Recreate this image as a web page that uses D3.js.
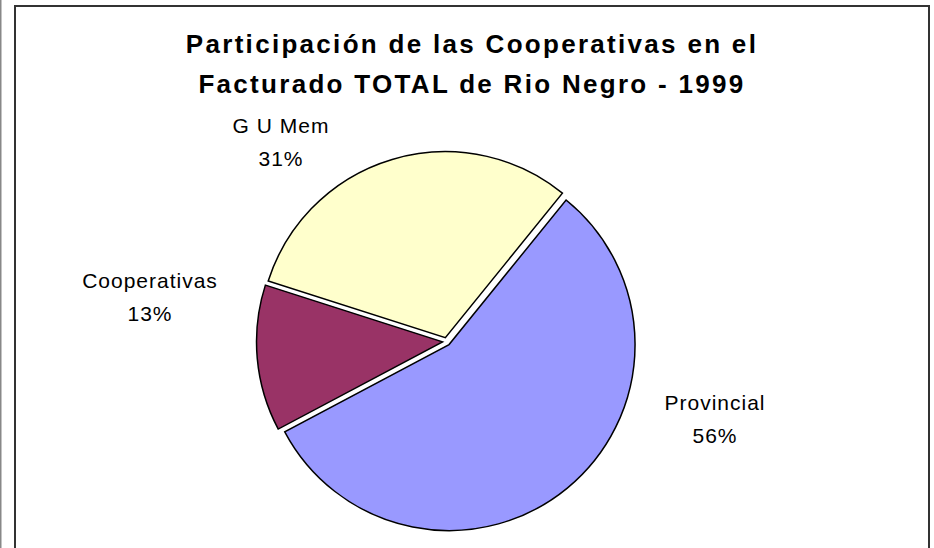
<html>
<head>
	<script src="https://d3js.org/d3.v7.min.js"></script>
	<style>
		body { margin: 0; background: #fff; }
		text { font-family: "Liberation Sans", Arial, sans-serif; }
	</style>
</head>
<body>
	<script>
		// data (shares in %, clockwise from the first slice)
		var categories = ["Provincial", "Cooperativas", "G U Mem"];
		var shares = [56.4, 12.7, 30.9];
		var colors = ["#9999FF", "#993366", "#FFFFCC"];
		var titleLines = ["Participación de las Cooperativas en el", "Facturado TOTAL de Rio Negro - 1999"];

		var width = 934, height = 548;
		var cx = 446.5, cy = 341.5, radius = 186, explode = 4;
		var firstAngle = 39 * Math.PI / 180;

		// label anchors (centre x, baseline of first line)
		var labelPos = [[715, 410], [150, 288], [281, 133]];

		var data = categories.map(function(c, i) { return { name: c, value: shares[i], color: colors[i] }; });
		var total = d3.sum(shares);

		var svg = d3.select("body").append("svg")
			.attr("width", width)
			.attr("height", height);

		// outer frame
		svg.append("line")
			.attr("x1", 0.75).attr("x2", 0.75).attr("y1", 0).attr("y2", height)
			.attr("stroke", "#888").attr("stroke-width", 1.5);
		svg.append("rect")
			.attr("x", 15).attr("y", 6)
			.attr("width", 914).attr("height", height + 20)
			.attr("fill", "none").attr("stroke", "#333").attr("stroke-width", 2);

		// title
		svg.selectAll(".title").data(titleLines)
			.enter().append("text")
			.attr("class", "title")
			.attr("x", 472)
			.attr("y", function(d, i) { return 53 + i * 40; })
			.attr("text-anchor", "middle")
			.attr("font-size", 26)
			.attr("font-weight", "bold")
			.attr("letter-spacing", "2.3px")
			.attr("fill", "#000")
			.text(function(d) { return d; });

		var pie = d3.pie()
			.sort(null)
			.value(function(d) { return d.value; })
			.startAngle(firstAngle)
			.endAngle(firstAngle + 2 * Math.PI);

		var arc = d3.arc().innerRadius(0).outerRadius(radius);

		var g = svg.append("g")
			.attr("transform", "translate(" + cx + "," + cy + ")");

		g.selectAll("path").data(pie(data))
			.enter().append("path")
			.attr("transform", function(d) {
				var a = (d.startAngle + d.endAngle) / 2;
				return "translate(" + (Math.sin(a) * explode) + "," + (-Math.cos(a) * explode) + ")";
			})
			.attr("d", arc)
			.attr("fill", function(d) { return d.data.color; })
			.attr("stroke", "#000")
			.attr("stroke-width", 1.5)
			.attr("stroke-linejoin", "miter");

		// data labels
		var labels = svg.selectAll(".lbl").data(data)
			.enter().append("text")
			.attr("class", "lbl")
			.attr("text-anchor", "middle")
			.attr("font-size", 21)
			.attr("letter-spacing", "1px")
			.attr("fill", "#000");

		labels.append("tspan")
			.attr("x", function(d, i) { return labelPos[i][0]; })
			.attr("y", function(d, i) { return labelPos[i][1]; })
			.text(function(d) { return d.name; });
		labels.append("tspan")
			.attr("x", function(d, i) { return labelPos[i][0]; })
			.attr("y", function(d, i) { return labelPos[i][1] + 33; })
			.text(function(d) { return Math.round(d.value / total * 100) + "%"; });
	</script>
</body>
</html>
